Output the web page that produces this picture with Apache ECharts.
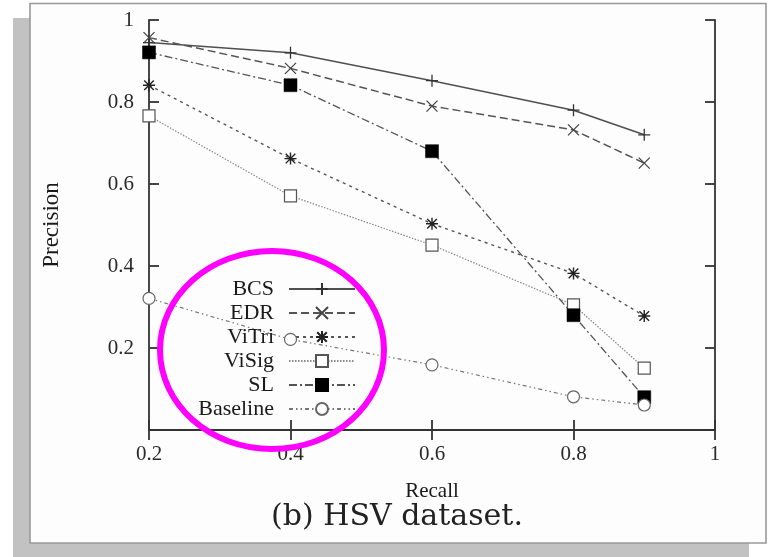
<!DOCTYPE html>
<html>
<head>
<meta charset="utf-8">
<script src="https://cdn.jsdelivr.net/npm/echarts@6/dist/echarts.min.js"></script>
<style>
html,body{margin:0;padding:0;background:#fff;}
#chart{width:769px;height:557px;}
</style>
</head>
<body>
<div id="chart"></div>
<script>
// ---- data ----
var recall = [0.2, 0.4, 0.6, 0.8, 0.9];
var seriesNames = ['BCS', 'EDR', 'ViTri', 'ViSig', 'SL', 'Baseline'];
var BCS      = [0.945, 0.920, 0.852, 0.780, 0.720];
var EDR      = [0.957, 0.882, 0.790, 0.732, 0.651];
var ViTri    = [0.841, 0.662, 0.503, 0.382, 0.278];
var ViSig    = [0.766, 0.571, 0.451, 0.305, 0.151];
var SL       = [0.921, 0.841, 0.680, 0.280, 0.080];
var Baseline = [0.321, 0.221, 0.159, 0.081, 0.061];
var xTicks = [0.2, 0.4, 0.6, 0.8, 1];
var yTicks = [0.2, 0.4, 0.6, 0.8, 1];
var caption = '(b) HSV dataset.';
var xName = 'Recall';
var yName = 'Precision';

var values = [BCS, EDR, ViTri, ViSig, SL, Baseline];

// ---- styles ----
var SERIF = '"Liberation Serif", "Times New Roman", serif';
var PLUS = 'path://M5 0 L5 10 M0 5 L10 5';
var CROSS = 'path://M0 0 L10 10 M10 0 L0 10';
var STAR = 'path://M5 0 L5 10 M0 5 L10 5 M1 1 L9 9 M9 1 L1 9';
var styles = [
  {symbol: PLUS,  size: 12, fill: '#333', stroke: '#333', bw: 1.3, line: {color: '#505050', width: 1.6, type: 'solid'}},
  {symbol: CROSS, size: 11, fill: '#333', stroke: '#444', bw: 1.3, line: {color: '#555', width: 1.5, type: [8, 4]}},
  {symbol: STAR,  size: 12, fill: '#222', stroke: '#222', bw: 1.4, line: {color: '#555', width: 1.4, type: [3, 4]}},
  {symbol: 'rect', size: 12, fill: '#fff', stroke: '#555', bw: 1.2, line: {color: '#888', width: 1.2, type: [1.5, 1.5]}},
  {symbol: 'rect', size: 13, fill: '#000', stroke: '#000', bw: 0.5, line: {color: '#555', width: 1.3, type: [8, 3, 2, 3]}},
  {symbol: 'circle', size: 12, fill: '#fff', stroke: '#666', bw: 1.2, line: {color: '#777', width: 1.2, type: [4, 3, 1.5, 3, 1.5, 3]}}
];

var series = seriesNames.map(function (name, i) {
  var st = styles[i];
  return {
    name: name,
    type: 'line',
    data: recall.map(function (r, j) { return [r, values[i][j]]; }),
    symbol: st.symbol,
    symbolSize: st.size,
    showAllSymbol: true,
    lineStyle: st.line,
    itemStyle: {color: st.fill, borderColor: st.stroke, borderWidth: st.bw},
    emphasis: {disabled: true},
    z: 3 + i,
    animation: false
  };
});

var chart = echarts.init(document.getElementById('chart'), null, {renderer: 'canvas'});
var axisLine = {show: true, lineStyle: {color: '#333', width: 1.8}};
var tick = {show: true, inside: true, length: 10, lineStyle: {color: '#333', width: 1.8}};
chart.setOption({
  animation: false,
  backgroundColor: '#ffffff',
  title: {
    text: caption,
    left: 392, top: 497, textAlign: 'center',
    textStyle: {fontFamily: '"DejaVu Serif", serif', fontWeight: 'normal', fontSize: 30, color: '#222'}
  },
  grid: {left: 149, right: 54, top: 20, bottom: 127, containLabel: false},
  legend: {
    orient: 'vertical',
    align: 'right',
    right: 413,
    top: 278,
    padding: 0,
    itemWidth: 66,
    itemHeight: 15,
    itemGap: 2,
    selectedMode: false,
    textStyle: {fontFamily: SERIF, fontSize: 22, lineHeight: 22, color: '#1a1a1a', padding: [0, 10, 0, 0]},
    data: seriesNames
  },
  xAxis: [{
    type: 'value', min: 0.2, max: 1, interval: 0.2,
    name: xName, nameLocation: 'middle', nameGap: 51,
    nameTextStyle: {fontFamily: SERIF, fontSize: 21, color: '#1a1a1a'},
    axisLine: axisLine, axisTick: tick,
    axisLabel: {margin: 14, fontFamily: SERIF, fontSize: 21, color: '#2a2a2a',
      formatter: function (v) { var t = xTicks.filter(function (k) { return Math.abs(k - v) < 1e-6; }); return t.length ? String(t[0]) : ''; }},
    splitLine: {show: false}
  }, {
    type: 'value', position: 'top', min: 0.2, max: 1, interval: 0.2,
    axisLine: axisLine, axisTick: tick, axisLabel: {show: false}, splitLine: {show: false}
  }],
  yAxis: [{
    type: 'value', min: 0, max: 1, interval: 0.2,
    name: yName, nameLocation: 'middle', nameGap: 86, nameRotate: 90,
    nameTextStyle: {fontFamily: SERIF, fontSize: 23, color: '#1a1a1a'},
    axisLine: axisLine, axisTick: tick,
    axisLabel: {margin: 15, fontFamily: SERIF, fontSize: 21, color: '#2a2a2a',
      formatter: function (v) { var t = yTicks.filter(function (k) { return Math.abs(k - v) < 1e-6; }); return t.length ? String(t[0]) : ''; }},
    splitLine: {show: false}
  }, {
    type: 'value', position: 'right', min: 0, max: 1, interval: 0.2,
    axisLine: axisLine, axisTick: tick, axisLabel: {show: false}, splitLine: {show: false}
  }],
  graphic: [
    {type: 'rect', z: -20, silent: true, shape: {x: 13, y: 18, width: 736, height: 545}, style: {fill: '#c2c2c2'}},
    {type: 'rect', z: -10, silent: true, shape: {x: 30, y: 3.5, width: 736, height: 539.5}, style: {fill: '#fdfdfd', stroke: '#999', lineWidth: 1.6}},
    {type: 'ellipse', z: 100, silent: true, shape: {cx: 272, cy: 350, rx: 112, ry: 99}, style: {fill: 'none', stroke: '#ff00ff', lineWidth: 6}}
  ],
  series: series
});
</script>
</body>
</html>
